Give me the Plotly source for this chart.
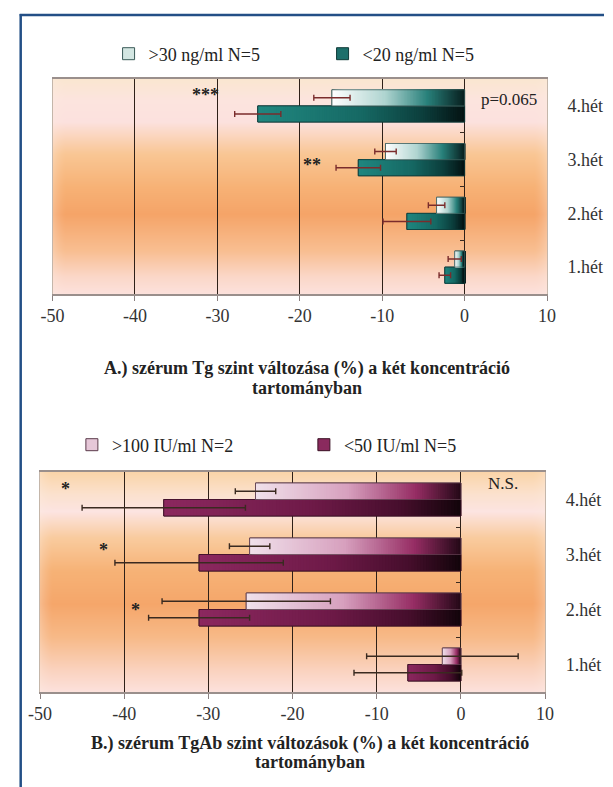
import base64
import struct
import zlib

import numpy as np
import plotly.graph_objects as go

# ---------------------------------------------------------------- data
weeks = ["1.hét", "2.hét", "3.hét", "4.hét"]
x_ticks = [-50, -40, -30, -20, -10, 0, 10]
x_tick_text = ["-50", "-40", "-30", "-20", "-10", "0", "10"]

# A.) serum Tg change (%)
tg_high_label = ">30 ng/ml N=5"
tg_high = [-1.2, -3.4, -9.6, -16.1]
tg_high_err = [0.8, 1.0, 1.3, 2.2]
tg_low_label = "<20 ng/ml N=5"
tg_low = [-2.4, -7.0, -12.9, -25.1]
tg_low_err = [0.7, 2.9, 2.7, 2.8]

# B.) serum TgAb change (%)
tgab_high_label = ">100 IU/ml N=2"
tgab_high = [-2.2, -25.5, -25.1, -24.4]
tgab_high_err = [9.0, 10.0, 2.4, 2.4]
tgab_low_label = "<50 IU/ml N=5"
tgab_low = [-6.3, -31.1, -31.1, -35.3]
tgab_low_err = [6.4, 6.0, 10.0, 9.7]

title_a = ["A.) szérum Tg szint változása (%) a két koncentráció", "tartományban"]
title_b = ["B.) szérum TgAb szint változások (%) a két koncentráció", "tartományban"]

# ---------------------------------------------------------------- helpers
W, H = 613, 787
FONT = "Liberation Serif, Times New Roman, serif"


def px(xp):
    return xp / W


def py(yp):
    return 1 - yp / H


def png_uri(rgb):
    h, w, _ = rgb.shape
    raw = b"".join(b"\x00" + rgb[i].tobytes() for i in range(h))

    def chunk(tag, data):
        body = tag + data
        return struct.pack(">I", len(data)) + body + struct.pack(">I", zlib.crc32(body) & 0xFFFFFFFF)

    png = (b"\x89PNG\r\n\x1a\n"
           + chunk(b"IHDR", struct.pack(">IIBBBBB", w, h, 8, 2, 0, 0, 0))
           + chunk(b"IDAT", zlib.compress(raw, 9))
           + chunk(b"IEND", b""))
    return "data:image/png;base64," + base64.b64encode(png).decode()


def backdrop(w, h, stops):
    f = (np.arange(h) + 0.5) / h
    pos = [s[0] for s in stops]
    cols = np.array([s[1] for s in stops], float)
    col = np.stack([np.interp(f, pos, cols[:, k]) for k in range(3)], axis=1)
    img = np.repeat(col[:, None, :], w, axis=1)
    xs = np.arange(w) + 0.5
    d = np.minimum(xs, w - xs)
    edge = np.clip(1 - d / 14.0, 0, 1) ** 1.5 * 0.3
    light = np.array([253, 238, 228], float)
    img = img * (1 - edge[None, :, None]) + light * edge[None, :, None]
    return np.clip(img.round(), 0, 255).astype(np.uint8)


def ramp(stops, t):
    pos = [s[0] for s in stops]
    cols = np.array([s[1] for s in stops], float)
    c = [int(round(np.interp(t, pos, cols[:, k]))) for k in range(3)]
    return "rgb(%d,%d,%d)" % tuple(c)


N_STEPS = 90


def add_series(fig, values, errs, name, key, stops, solid, edge, err_color,
               xa, ya, legend, rank):
    # legend carrier (solid bar underneath the gradient)
    fig.add_trace(go.Bar(
        y=weeks, x=values, orientation="h", name=name, offsetgroup=key,
        marker=dict(color=solid, line=dict(color=edge, width=1)),
        xaxis=xa, yaxis=ya, legend=legend, legendrank=rank, hoverinfo="skip"))
    # gradient fill: each slice runs from its start to zero, later ones on top
    for k in range(N_STEPS):
        frac = 1 - k / N_STEPS
        fig.add_trace(go.Bar(
            y=weeks, x=[-v * frac for v in values], base=[v * frac for v in values],
            orientation="h", offsetgroup=key, showlegend=False,
            marker=dict(color=ramp(stops, (k + 0.5) / N_STEPS), line=dict(width=0)),
            xaxis=xa, yaxis=ya, hoverinfo="skip"))
    # outline + error bars
    fig.add_trace(go.Bar(
        y=weeks, x=values, orientation="h", offsetgroup=key, showlegend=False,
        marker=dict(color="rgba(0,0,0,0)", line=dict(color=edge, width=0.8)),
        error_x=dict(type="data", array=errs, color=err_color, thickness=1.4, width=3),
        xaxis=xa, yaxis=ya, name=name))


fig = go.Figure()

# ---------------------------------------------------------------- panel A
teal_light = [(0, (255, 255, 255)), (0.4, (175, 212, 208)), (0.72, (40, 128, 122)), (1, (8, 30, 30))]
teal_dark = [(0, (32, 135, 128)), (0.5, (22, 105, 100)), (0.8, (12, 62, 60)), (1, (4, 18, 18))]
add_series(fig, tg_low, tg_low_err, tg_low_label, "low", teal_dark, "#1d6f6b", "#0f3a38",
           "#7a2c2c", "x", "y", "legend", 2)
add_series(fig, tg_high, tg_high_err, tg_high_label, "high", teal_light, "#d3e6e2", "#3a5a58",
           "#7a2c2c", "x", "y", "legend", 1)

# ---------------------------------------------------------------- panel B
plum_light = [(0, (240, 225, 235)), (0.45, (215, 160, 190)), (0.78, (150, 45, 100)), (1, (35, 8, 22))]
plum_dark = [(0, (140, 40, 95)), (0.5, (110, 26, 72)), (0.8, (70, 14, 44)), (1, (18, 4, 10))]
add_series(fig, tgab_low, tgab_low_err, tgab_low_label, "low", plum_dark, "#8a2a5e", "#3a1024",
           "#3a2a20", "x2", "y2", "legend2", 2)
add_series(fig, tgab_high, tgab_high_err, tgab_high_label, "high", plum_light, "#e6c7d8", "#5a3a4a",
           "#3a2a20", "x2", "y2", "legend2", 1)

# carriers for the tick-only axes that sit on the zero line
fig.add_trace(go.Scatter(x=[None], y=[None], xaxis="x", yaxis="y3", showlegend=False, hoverinfo="skip"))
fig.add_trace(go.Scatter(x=[None], y=[None], xaxis="x2", yaxis="y4", showlegend=False, hoverinfo="skip"))

# ---------------------------------------------------------------- axes
A_X, A_Y = (42, 554), (79, 294)
B_X, B_Y = (29, 552), (472, 692)

xcommon = dict(range=[-50, 10], tickvals=x_ticks, ticktext=x_tick_text,
               showgrid=True, gridcolor="#2e2018", gridwidth=1, zeroline=False,
               showline=True, linecolor="#9a8f8c", linewidth=1.5, mirror=True,
               ticks="outside", ticklen=5, tickcolor="#8a8080",
               tickfont=dict(family=FONT, size=18, color="#333333"), fixedrange=True)
ycommon = dict(type="category", categoryarray=weeks, categoryorder="array",
               range=[-0.5, 3.5], side="right", showline=True, mirror=True,
               linecolor="#c4b6aa", linewidth=1, ticks="", showgrid=False,
               ticklabelstandoff=16, tickfont=dict(family=FONT, size=18, color="#333333"),
               fixedrange=True)
ytickcommon = dict(range=[-0.5, 3.5], tickvals=[0.5, 1.5, 2.5], ticks="outside",
                   ticklen=5, tickcolor="#3a2a20", tickwidth=1, showticklabels=False,
                   showgrid=False, zeroline=False, showline=False, side="left",
                   anchor="free", fixedrange=True)

fig.update_layout(
    xaxis=dict(domain=[px(A_X[0]), px(A_X[1])], anchor="y", **xcommon),
    yaxis=dict(domain=[py(A_Y[1]), py(A_Y[0])], anchor="x", **ycommon),
    xaxis2=dict(domain=[px(B_X[0]), px(B_X[1])], anchor="y2", **xcommon),
    yaxis2=dict(domain=[py(B_Y[1]), py(B_Y[0])], anchor="x2", **ycommon),
    yaxis3=dict(overlaying="y", position=px(469), **ytickcommon),
    yaxis4=dict(overlaying="y2", position=px(465), **ytickcommon),
)

# ---------------------------------------------------------------- backgrounds
stops_a = [(0, (250, 230, 208)), (0.1, (252, 228, 222)), (0.2, (252, 225, 222)),
           (0.35, (249, 198, 148)), (0.5, (247, 178, 118)), (0.63, (245, 164, 104)),
           (0.8, (248, 190, 145)), (0.92, (251, 215, 200)), (1, (252, 225, 220))]
stops_b = [(0, (250, 212, 168)), (0.1, (251, 225, 205)), (0.18, (252, 228, 225)),
           (0.3, (249, 203, 158)), (0.45, (246, 178, 118)), (0.6, (245, 166, 106)),
           (0.75, (247, 185, 135)), (0.9, (250, 210, 190)), (1, (252, 225, 220))]
img_a = png_uri(backdrop(A_X[1] - A_X[0], A_Y[1] - A_Y[0], stops_a))
img_b = png_uri(backdrop(B_X[1] - B_X[0], B_Y[1] - B_Y[0], stops_b))
fig.update_layout(images=[
    dict(source=img_a, xref="x domain", yref="y domain", x=0, y=1, sizex=1, sizey=1,
         xanchor="left", yanchor="top", sizing="stretch", layer="below"),
    dict(source=img_b, xref="x2 domain", yref="y2 domain", x=0, y=1, sizex=1, sizey=1,
         xanchor="left", yanchor="top", sizing="stretch", layer="below"),
])

# ---------------------------------------------------------------- annotations
ann = []


def note(text, x, y, xref, yref, size=17, bold=False):
    ann.append(dict(text=("<b>%s</b>" % text) if bold else text, x=x, y=y,
                    xref=xref, yref=yref, showarrow=False, xanchor="center", yanchor="middle",
                    font=dict(family=FONT, size=size, color="#222222")))


note("***", -31.5, 3.2, "x", "y", size=18, bold=True)
note("**", -18.5, 1.9, "x", "y", size=18, bold=True)
note("p=0.065", 5.4, 3.11, "x", "y", size=17)
note("*", -47.0, 3.19, "x2", "y2", size=18, bold=True)
note("*", -42.4, 2.08, "x2", "y2", size=18, bold=True)
note("*", -38.6, 0.99, "x2", "y2", size=18, bold=True)
note("N.S.", 5.0, 3.3, "x2", "y2", size=17)

note(title_a[0], px(305), py(368), "paper", "paper", size=18, bold=True)
note(title_a[1], px(305), py(388), "paper", "paper", size=18, bold=True)
note(title_b[0], px(309), py(743), "paper", "paper", size=18, bold=True)
note(title_b[1], px(309), py(762), "paper", "paper", size=18, bold=True)

fig.update_layout(annotations=ann)

# ---------------------------------------------------------------- frame
frame = "#234f86"
fig.update_layout(shapes=[
    dict(type="line", xref="paper", yref="paper", x0=px(8), x1=1.0, y0=py(15), y1=py(15),
         line=dict(color=frame, width=2.5)),
    dict(type="line", xref="paper", yref="paper", x0=px(9), x1=px(9), y0=py(14), y1=0,
         line=dict(color=frame, width=2.5)),
])

# ---------------------------------------------------------------- layout
legend_common = dict(orientation="h", xanchor="left", yanchor="middle",
                     font=dict(family=FONT, size=18, color="#222222"),
                     bgcolor="rgba(0,0,0,0)", itemwidth=30, entrywidthmode="pixels",
                     traceorder="normal", itemclick=False, itemdoubleclick=False)
fig.update_layout(
    width=W, height=H, autosize=False,
    margin=dict(l=0, r=0, t=0, b=0),
    paper_bgcolor="white", plot_bgcolor="rgba(0,0,0,0)",
    barmode="group", bargap=0.4, bargroupgap=0,
    font=dict(family=FONT, color="#222222"),
    legend=dict(x=px(100), y=py(54), entrywidth=209 - 40, **legend_common),
    legend2=dict(x=px(62), y=py(445), entrywidth=227 - 40, **legend_common),
)

fig.write_html("out.html")
